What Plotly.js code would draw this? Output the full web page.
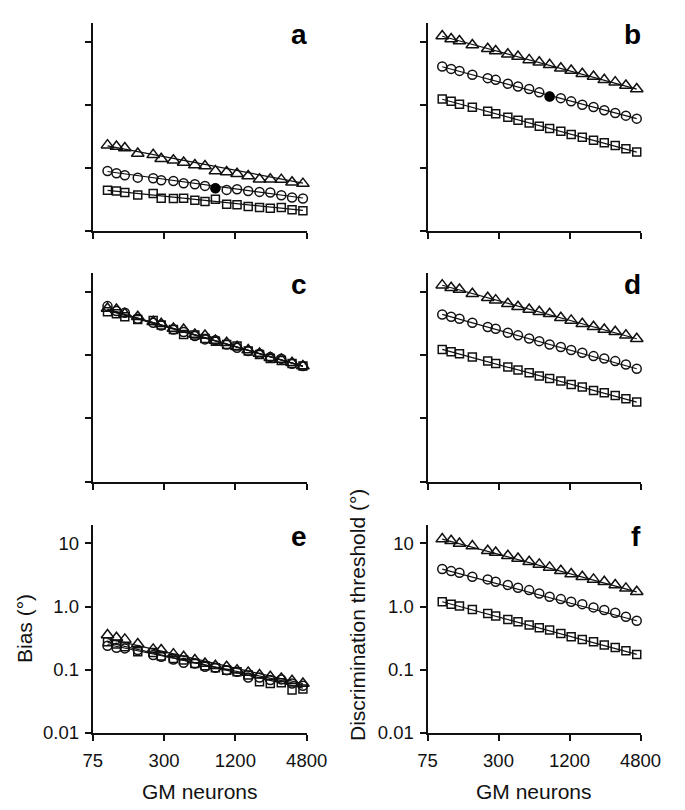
<!DOCTYPE html>
<html>
<head>
<meta charset="utf-8">
<script src="https://cdn.plot.ly/plotly-3.0.1.min.js"></script>
<style>html,body{margin:0;padding:0;background:#fff;}#chart{width:685px;height:810px;}</style>
</head>
<body>
<div id="chart"></div>
<script>
// ---------- data ----------
const gmNeurons = [100,119,140,180,243,284,360,439,546,665,814,1013,1240,1540,1918,2366,2930,3610,4460];
const filledIndex = 10;

const a_tri = [0.228,0.217,0.205,0.168,0.160,0.139,0.131,0.121,0.110,0.106,0.0886,0.0855,0.0804,0.0738,0.0654,0.0654,0.0647,0.0586,0.0559];
const a_cir = [0.0886,0.0814,0.0757,0.0695,0.0679,0.0631,0.0616,0.0566,0.0546,0.0514,0.0472,0.0444,0.0455,0.0428,0.0413,0.0403,0.0366,0.0336,0.0324];
const a_sq  = [0.0439,0.0428,0.0403,0.0370,0.0388,0.0328,0.0324,0.0328,0.0305,0.0290,0.0316,0.0264,0.0257,0.0242,0.0233,0.0228,0.0233,0.0215,0.0207];

const b_tri = [12.28,11.02,10.25,8.86,7.75,7.12,6.31,5.80,5.14,4.72,4.29,3.80,3.49,3.09,2.80,2.48,2.28,2.02,1.77];
const b_cir = [4.03,3.70,3.44,2.98,2.64,2.48,2.15,1.95,1.77,1.57,1.35,1.27,1.13,1.00,0.918,0.814,0.738,0.670,0.601];
const b_sq  = [1.23,1.13,1.02,0.908,0.785,0.721,0.631,0.566,0.514,0.455,0.418,0.379,0.336,0.305,0.273,0.248,0.225,0.1995,0.177];

const c_tri = [5.46,5.26,4.49,4.03,3.36,3.12,2.64,2.54,2.12,2.04,1.70,1.57,1.35,1.20,1.06,0.908,0.854,0.757,0.670];
const c_cir = [5.94,4.95,4.66,3.75,3.24,2.94,2.54,2.31,2.00,1.77,1.72,1.47,1.31,1.16,1.05,0.930,0.875,0.730,0.670];
const c_sq  = [4.83,4.49,4.03,3.66,3.53,2.98,2.54,2.12,2.07,1.83,1.66,1.47,1.39,1.16,1.02,0.886,0.824,0.739,0.670];

const d_tri = [12.74,11.56,10.89,9.30,8.04,7.38,6.47,5.80,5.26,4.83,4.49,3.88,3.53,3.12,2.80,2.54,2.34,2.05,1.81];
const d_cir = [4.39,4.03,3.75,3.24,2.77,2.61,2.25,2.05,1.83,1.66,1.47,1.34,1.20,1.09,0.964,0.885,0.804,0.712,0.608];
const d_sq  = [1.23,1.13,1.05,0.930,0.804,0.738,0.647,0.580,0.526,0.466,0.428,0.388,0.344,0.313,0.277,0.254,0.231,0.205,0.181];

const e_tri = [0.353,0.320,0.301,0.254,0.209,0.204,0.176,0.160,0.142,0.125,0.115,0.111,0.098,0.090,0.082,0.077,0.0725,0.0666,0.0604];
const e_cir = [0.239,0.222,0.217,0.204,0.170,0.160,0.145,0.1285,0.125,0.111,0.107,0.098,0.0925,0.0752,0.0752,0.0683,0.0700,0.0604,0.0555];
const e_sq  = [0.276,0.254,0.230,0.192,0.187,0.164,0.1505,0.142,0.125,0.115,0.107,0.098,0.0925,0.082,0.0642,0.0604,0.0619,0.0474,0.0491];

const f_tri = [11.71,11.02,10.0,9.07,7.65,7.20,6.38,5.78,5.12,4.65,4.17,3.69,3.27,2.96,2.69,2.47,2.19,1.94,1.71];
const f_cir = [3.92,3.64,3.43,2.96,2.69,2.47,2.19,1.98,1.82,1.61,1.43,1.31,1.19,1.09,0.968,0.878,0.797,0.688,0.595];
const f_sq  = [1.19,1.09,1.016,0.900,0.777,0.705,0.625,0.574,0.508,0.461,0.423,0.375,0.332,0.301,0.276,0.245,0.225,0.199,0.174];

// fitted line end values (at first and last GM-neuron count)
const a_fit = {tri:[0.222,0.057], cir:[0.087,0.033], sq:[0.0435,0.021]};
const b_fit = {tri:[12.2,1.77], cir:[4.0,0.60], sq:[1.22,0.177]};
const c_fit = {tri:[5.3,0.67], cir:[5.3,0.665], sq:[5.1,0.67]};
const d_fit = {tri:[12.7,1.81], cir:[4.39,0.608], sq:[1.23,0.181]};
const e_fit = {tri:[0.31,0.060], cir:[0.25,0.057], sq:[0.27,0.051]};
const f_fit = {tri:[11.7,1.71], cir:[3.92,0.595], sq:[1.19,0.174]};

const panelLetters = ['a','b','c','d','e','f'];
const xTickVals = [75,300,1200,4800];
const xTickText = ['75','300','1200','4800'];
const yTickVals = [0.01,0.1,1,10];
const yTickText = ['0.01','0.1','1.0','10'];
const xTitle = 'GM neurons';
const yTitleLeft = 'Bias (°)';
const yTitleRight = 'Discrimination threshold (°)';

// ---------- drawing ----------
const FONT = 'Liberation Sans, Arial, Helvetica, sans-serif';
const panels = [
  {tri:a_tri, cir:a_cir, sq:a_sq, fit:a_fit, filled:true},
  {tri:b_tri, cir:b_cir, sq:b_sq, fit:b_fit, filled:true},
  {tri:c_tri, cir:c_cir, sq:c_sq, fit:c_fit, filled:false},
  {tri:d_tri, cir:d_cir, sq:d_sq, fit:d_fit, filled:false},
  {tri:e_tri, cir:e_cir, sq:e_sq, fit:e_fit, filled:false},
  {tri:f_tri, cir:f_cir, sq:f_sq, fit:f_fit, filled:false}
];
const W = 685, H = 810;
const colX = [[92.7,306.7],[427.5,640.5]];
const rowY = [[23.3,230.7],[273.3,481.7],[525,732.7]];

const traces = [];
const layout = {
  width: W, height: H,
  margin: {l:0, r:0, t:0, b:0},
  paper_bgcolor: '#fff', plot_bgcolor: 'rgba(0,0,0,0)',
  showlegend: false,
  font: {family: FONT, color: '#111', size: 18},
  annotations: []
};
const lastX = [gmNeurons[0], gmNeurons[gmNeurons.length-1]];
const symbols = {tri:'triangle-up-open', cir:'circle-open', sq:'square-open'};
const sizes = {tri:11, cir:9, sq:8};

panels.forEach((p, i) => {
  const n = i + 1;
  const xa = 'x' + (n === 1 ? '' : n), ya = 'y' + (n === 1 ? '' : n);
  const col = i % 2, row = Math.floor(i / 2);
  const bottom = row === 2;
  ['tri','cir','sq'].forEach(k => {
    traces.push({x: lastX, y: p.fit[k], xaxis: xa, yaxis: ya, mode: 'lines',
      line: {color: '#111', width: 1.2}, hoverinfo: 'skip', cliponaxis: false});
    traces.push({x: gmNeurons, y: p[k], xaxis: xa, yaxis: ya, mode: 'markers',
      marker: {symbol: symbols[k], size: sizes[k], color: '#111', line: {width: 1.5, color: '#111'}},
      cliponaxis: false});
  });
  if (p.filled) {
    traces.push({x: [gmNeurons[filledIndex]], y: [p.cir[filledIndex]], xaxis: xa, yaxis: ya,
      mode: 'markers', marker: {symbol: 'circle', size: 10, color: '#000'}, cliponaxis: false});
  }
  const xk = 'xaxis' + (n === 1 ? '' : n), yk = 'yaxis' + (n === 1 ? '' : n);
  layout[xk] = {
    type: 'log', range: [Math.log10(75), Math.log10(4800)],
    domain: [colX[col][0]/W, colX[col][1]/W], anchor: ya,
    showline: true, linecolor: '#111', linewidth: 2, mirror: false,
    ticks: 'outside', ticklen: 6, tickwidth: 2, tickcolor: '#111',
    tickvals: xTickVals, ticktext: xTickText, showticklabels: bottom,
    ticklabelstandoff: 4,
    tickfont: {family: FONT, size: 18.5, color: '#111'},
    showgrid: false, zeroline: false, fixedrange: true
  };
  layout[yk] = {
    type: 'log', range: [-2, 1.292],
    domain: [1 - rowY[row][1]/H, 1 - rowY[row][0]/H], anchor: xa,
    showline: true, linecolor: '#111', linewidth: 2,
    ticks: 'outside', ticklen: 6, tickwidth: 2, tickcolor: '#111',
    tickvals: yTickVals, ticktext: yTickText, showticklabels: bottom,
    ticklabelstandoff: 2,
    tickfont: {family: FONT, size: 18.5, color: '#111'},
    showgrid: false, zeroline: false, fixedrange: true
  };
  layout.annotations.push({
    text: '<b>' + panelLetters[i] + '</b>', xref: xa + ' domain', yref: ya + ' domain',
    x: 1, y: 1, xanchor: 'right', yanchor: 'middle', yshift: -11.5, xshift: 2,
    showarrow: false, font: {family: FONT, size: 28, color: '#000'}
  });
});

// axis titles
layout.annotations.push({text: xTitle, xref:'paper', yref:'paper', x: 199.7/W, y: 1-791/H,
  xanchor:'center', yanchor:'middle', showarrow:false, font:{family:FONT, size:21, color:'#111'}});
layout.annotations.push({text: xTitle, xref:'paper', yref:'paper', x: 534/W, y: 1-791/H,
  xanchor:'center', yanchor:'middle', showarrow:false, font:{family:FONT, size:21, color:'#111'}});
layout.annotations.push({text: yTitleLeft, xref:'paper', yref:'paper', x: 24/W, y: 1-629/H,
  xanchor:'center', yanchor:'middle', textangle:-90, showarrow:false, font:{family:FONT, size:21, color:'#111'}});
layout.annotations.push({text: yTitleRight, xref:'paper', yref:'paper', x: 357/W, y: 1-615/H,
  xanchor:'center', yanchor:'middle', textangle:-90, showarrow:false, font:{family:FONT, size:21, color:'#111'}});

Plotly.newPlot('chart', traces, layout, {displayModeBar: false, staticPlot: true});
</script>
</body>
</html>
